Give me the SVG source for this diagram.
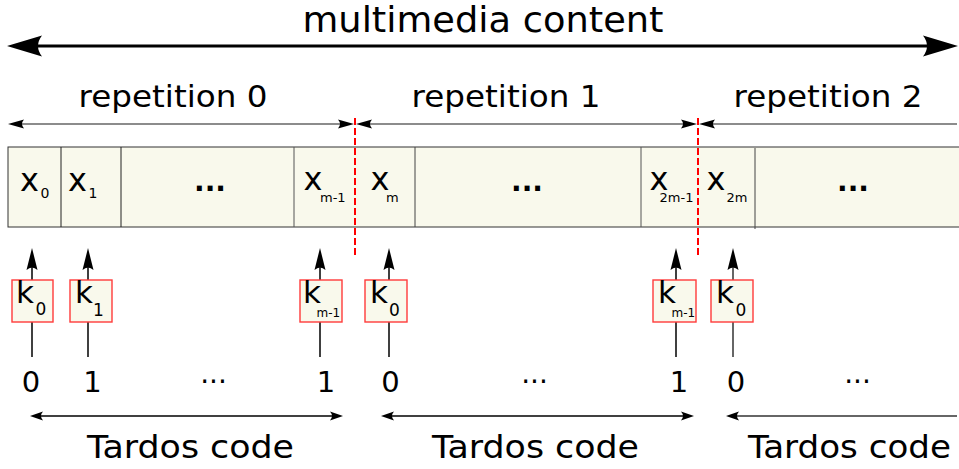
<svg xmlns="http://www.w3.org/2000/svg" width="959" height="469" viewBox="0 0 959 469">
<style>
text{font-family:"DejaVu Sans","Liberation Sans",sans-serif;fill:#000}
.t{font-size:36px}
.rep{font-size:30px}
.tc{font-size:32px}
.dig{font-size:29px;text-anchor:middle}
.x{font-size:32px}
.xs{font-size:14px}
.xs2{font-size:13px}
.k{font-size:31px}
.ks{font-size:17px}
.ks2{font-size:12px}
.cell{fill:#f9f9ec;stroke:#333;stroke-width:1}
.kb{fill:#f9f9ec;stroke:#ff3b3b;stroke-width:1.4}
.dots{font-size:28px;font-weight:bold;text-anchor:middle}
.mdots{font-size:28px;text-anchor:middle}
.red{stroke:#f00;stroke-width:2;stroke-dasharray:7 3;fill:none}
</style>
<defs>
<marker id="mb" markerUnits="userSpaceOnUse" viewBox="-30 -12 42 24" markerWidth="42" markerHeight="24" refX="0" refY="0" orient="auto-start-reverse" overflow="visible"><path d="M10,0 L-25,-10.5 Q-17,0 -25,10.5 Z" fill="#000"/></marker>
<marker id="mr" markerUnits="userSpaceOnUse" viewBox="-16 -6 22 12" markerWidth="22" markerHeight="12" refX="0" refY="0" orient="auto-start-reverse" overflow="visible"><path d="M4,0 L-12,-4.5 Q-8,0 -12,4.5 Z" fill="#000"/></marker>
<marker id="mt" markerUnits="userSpaceOnUse" viewBox="-12 -6 18 12" markerWidth="18" markerHeight="12" refX="0" refY="0" orient="auto-start-reverse" overflow="visible"><path d="M3,0 L-10,-4.5 Q-6,0 -10,4.5 Z" fill="#000"/></marker>
<marker id="mu" markerUnits="userSpaceOnUse" viewBox="-20 -7 26 14" markerWidth="26" markerHeight="14" refX="0" refY="0" orient="auto" overflow="visible"><path d="M4,0 L-18,-5.5 Q-13,0 -18,5.5 Z" fill="#000"/></marker>
</defs>

<g id="title"><text class="t" x="483" y="32" text-anchor="middle" textLength="361" lengthAdjust="spacingAndGlyphs">multimedia content</text></g>
<g id="rep0"><text class="rep" x="78.5" y="106.5" textLength="189" lengthAdjust="spacingAndGlyphs">repetition 0</text></g>
<g id="rep1"><text class="rep" x="411.5" y="106.5" textLength="189" lengthAdjust="spacingAndGlyphs">repetition 1</text></g>
<g id="rep2"><text class="rep" x="733.5" y="106.5" textLength="189" lengthAdjust="spacingAndGlyphs">repetition 2</text></g>

<g id="table">
<rect class="cell" x="8" y="147" width="960" height="80"/>
<line x1="61" y1="147" x2="61" y2="227" stroke="#222"/>
<line x1="121" y1="147" x2="121" y2="227" stroke="#222"/>
<line x1="294" y1="147" x2="294" y2="227" stroke="#555"/>
<line x1="415" y1="147" x2="415" y2="227" stroke="#444"/>
<line x1="641" y1="147" x2="641" y2="227" stroke="#555"/>
<line x1="755" y1="148" x2="755" y2="229" stroke="#444"/>
</g>
<g id="cell-x0"><text class="x" x="20" y="191">x</text><text class="xs" x="40.5" y="198">0</text></g>
<g id="cell-x1"><text class="x" x="68" y="191">x</text><text class="xs" x="88.5" y="198">1</text></g>
<g id="cell-dots1"><text class="dots" x="210" y="191">...</text></g>
<g id="cell-xm-1"><text class="x" x="303.5" y="190">x</text><text class="xs2" x="320" y="201.5">m-1</text></g>
<g id="cell-xm"><text class="x" x="370.5" y="190">x</text><text class="xs2" x="386" y="201.5">m</text></g>
<g id="cell-dots2"><text class="dots" x="527" y="191">...</text></g>
<g id="cell-x2m-1"><text class="x" x="649.5" y="190">x</text><text class="xs2" x="659.5" y="201.5">2m-1</text></g>
<g id="cell-x2m"><text class="x" x="706.5" y="190">x</text><text class="xs2" x="726.5" y="201.5">2m</text></g>
<g id="cell-dots3"><text class="dots" x="853" y="191">...</text></g>

<g id="connectors" fill="none">
<line x1="17" y1="46" x2="948" y2="46" stroke="#000" stroke-width="3" marker-start="url(#mb)" marker-end="url(#mb)"/>
<line x1="12" y1="124" x2="350" y2="124" stroke="#666" stroke-width="1.5" marker-start="url(#mr)" marker-end="url(#mr)"/>
<line x1="360" y1="124" x2="693" y2="124" stroke="#666" stroke-width="1.5" marker-start="url(#mr)" marker-end="url(#mr)"/>
<line x1="703" y1="124" x2="957" y2="124" stroke="#666" stroke-width="1.5" marker-start="url(#mr)"/>
<line x1="33" y1="416" x2="340" y2="416" stroke="#000" stroke-width="1.3" marker-start="url(#mt)" marker-end="url(#mt)"/>
<line x1="384" y1="416" x2="691" y2="416" stroke="#000" stroke-width="1.3" marker-start="url(#mt)" marker-end="url(#mt)"/>
<line x1="729" y1="416" x2="957" y2="416" stroke="#333" stroke-width="1.3" marker-start="url(#mt)"/>
<line x1="32" y1="357" x2="32" y2="252" stroke="#000" stroke-width="1.5" marker-end="url(#mu)"/>
<line x1="88" y1="357" x2="88" y2="252" stroke="#000" stroke-width="1.5" marker-end="url(#mu)"/>
<line x1="320" y1="357" x2="320" y2="252" stroke="#000" stroke-width="1.5" marker-end="url(#mu)"/>
<line x1="389" y1="357" x2="389" y2="252" stroke="#000" stroke-width="1.5" marker-end="url(#mu)"/>
<line x1="676" y1="357" x2="676" y2="252" stroke="#000" stroke-width="1.5" marker-end="url(#mu)"/>
<line x1="733" y1="357" x2="733" y2="252" stroke="#333" stroke-width="1.5" marker-end="url(#mu)"/>
<line class="red" x1="355" y1="118" x2="355" y2="255"/>
<line class="red" x1="698" y1="118" x2="698" y2="255"/>
</g>

<g id="k0a"><rect class="kb" x="12" y="280" width="41" height="42"/><text class="k" x="16" y="303">k</text><text class="ks" x="35.5" y="315">0</text></g>
<g id="k1"><rect class="kb" x="70" y="280" width="42" height="42"/><text class="k" x="75" y="303">k</text><text class="ks" x="93" y="316">1</text></g>
<g id="km-1a"><rect class="kb" x="300" y="280" width="42" height="42"/><text class="k" x="303" y="303">k</text><text class="ks2" x="316.5" y="317">m-1</text></g>
<g id="k0b"><rect class="kb" x="365" y="280" width="42" height="42"/><text class="k" x="370" y="303">k</text><text class="ks" x="389" y="316">0</text></g>
<g id="km-1b"><rect class="kb" x="653" y="280" width="43" height="42"/><text class="k" x="658" y="303">k</text><text class="ks2" x="671.5" y="317">m-1</text></g>
<g id="k0c"><rect class="kb" x="711" y="280" width="42" height="42"/><text class="k" x="716" y="303">k</text><text class="ks" x="735.5" y="316">0</text></g>

<g id="bits">
<text class="dig" x="31" y="392">0</text>
<text class="dig" x="92.5" y="392">1</text>
<text class="mdots" x="213.5" y="391">···</text>
<text class="dig" x="326" y="392">1</text>
<text class="dig" x="390.5" y="392">0</text>
<text class="mdots" x="534.5" y="391">···</text>
<text class="dig" x="679" y="392">1</text>
<text class="dig" x="736" y="392">0</text>
<text class="mdots" x="857.5" y="391">···</text>
</g>

<g id="tardos0"><text class="tc" x="87" y="458" textLength="207" lengthAdjust="spacingAndGlyphs">Tardos code</text></g>
<g id="tardos1"><text class="tc" x="432" y="458" textLength="207" lengthAdjust="spacingAndGlyphs">Tardos code</text></g>
<g id="tardos2"><text class="tc" x="748" y="458" textLength="203" lengthAdjust="spacingAndGlyphs">Tardos code</text></g>
</svg>
